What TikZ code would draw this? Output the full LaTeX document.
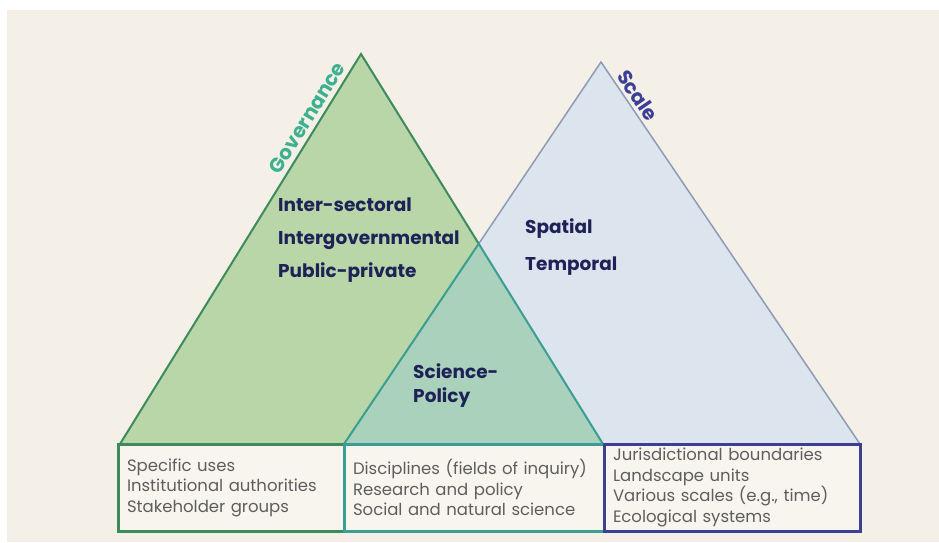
\documentclass[tikz,border=0pt]{standalone}
\usepackage{fontspec}
\setmainfont{Poppins}
\usetikzlibrary{positioning}
\definecolor{bgcream}{HTML}{F4F0E8}
\definecolor{boxfill}{HTML}{F8F5EE}
\definecolor{govfill}{HTML}{B8D6A8}
\definecolor{scalefill}{HTML}{DCE5EE}
\definecolor{sharefill}{HTML}{A9D1BC}
\definecolor{govline}{HTML}{3D8B5C}
\definecolor{scaleline}{HTML}{8D9BB5}
\definecolor{shareline}{HTML}{3A9E92}
\definecolor{navy}{HTML}{3B3F95}
\definecolor{inkdark}{HTML}{1F2257}
\definecolor{govtitle}{HTML}{3DB08F}
\definecolor{boxtext}{HTML}{5E5E5E}
\tikzset{every node/.style={inner sep=0pt},
  bigtext/.style={font=\fontsize{18.5}{20}\bfseries\selectfont, text=inkdark, anchor=base west},
  sidetext/.style={sloped, font=\fontsize{20}{22}\bfseries\selectfont},
  infobox/.style={rectangle, line width=3pt, fill=boxfill, minimum height=87pt, inner xsep=9pt,
    align=left, text=boxtext, font=\fontsize{16.5}{20.5}\selectfont}}

\begin{document}
\begin{tikzpicture}[x=1pt,y=-1pt]
  \useasboundingbox (0,0) rectangle (939,542);
  \fill[white] (0,0) rectangle (939,542);
  \fill[bgcream] (7,10) rectangle (939,542);
  % corners of the two triangles
  \coordinate (gL) at (120,444);
  \coordinate (gT) at (361,54);
  \coordinate (gR) at (603,444);
  \coordinate (sL) at (344,444);
  \coordinate (sT) at (601,62);
  \coordinate (sR) at (860,444);
  \coordinate (X) at (intersection of gT--gR and sL--sT);
  \fill[scalefill] (sL) -- (sT) -- (sR) -- cycle;
  \fill[govfill] (gL) -- (gT) -- (gR) -- cycle;
  \fill[sharefill] (sL) -- (X) -- (gR) -- cycle;
  \draw[scaleline, line width=1.5pt] (X) -- (sT) -- (sR);
  \draw[govline, line width=2pt] (gL) -- (gT) -- (X);
  \draw[shareline, line width=2pt] (sL) -- (X) -- (gR);
  \path (gL) -- (gT) node[sidetext, pos=0.82, above=5pt, text=govtitle] (gov) {Governance};
  \path (sT) -- (sR) node[sidetext, pos=0.105, above=4pt, text=navy] (scale) {Scale};
  % labels inside
  \node[bigtext] (inter) at (278,211) {Inter-sectoral};
  \node[bigtext] (intergov) at (278,244) {Intergovernmental};
  \node[bigtext] (public) at (278,277) {Public-private};
  \node[bigtext] (spatial) at (525,233) {Spatial};
  \node[bigtext] (temporal) at (525,270) {Temporal};
  \node[bigtext] (science) at (413,378) {Science-};
  \node[bigtext] (policy) at (413,402) {Policy};
  % boxes
  \node[infobox, draw=govline, minimum width=226pt, text width=208pt] (uses) at (231,487.5)
    {Specific uses\\Institutional authorities\\Stakeholder groups};
  \node[infobox, draw=shareline, minimum width=260pt, text width=242pt] (disc) at (474,487.5)
    {Disciplines (fields of inquiry)\\Research and policy\\Social and natural science};
  \node[infobox, draw=navy, minimum width=256pt, text width=238pt] (juris) at (732,487.5)
    {Jurisdictional boundaries\\Landscape units\\Various scales (e.g., time)\\Ecological systems};
\end{tikzpicture}
\end{document}
